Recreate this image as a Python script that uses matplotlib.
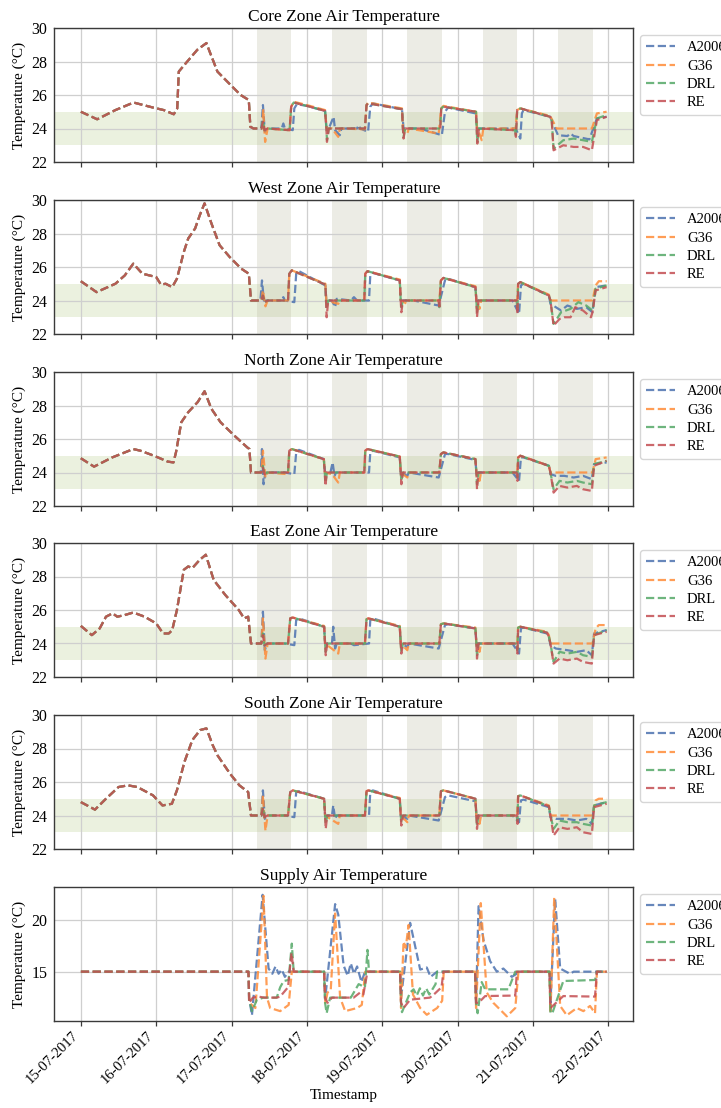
import pandas as pd
import matplotlib.pyplot as plt
import matplotlib.dates as mdates

plt.rcParams.update({
    "font.family": ["Liberation Serif", "DejaVu Serif"],
    "axes.edgecolor": "#3a3a3a",
    "axes.linewidth": 1.0,
    "grid.color": "#cfcfcf",
    "grid.linewidth": 0.9,
})

start = pd.Timestamp("2017-07-15 00:00")
controllers = ["A2006", "G36", "DRL", "RE"]
colors = ["#4C72B0", "#FF8C38", "#55A868", "#C44E52"]
occupied_days = ["2017-07-17", "2017-07-18", "2017-07-19", "2017-07-20", "2017-07-21"]
occupied_hours = (8, 19)
comfort_band = (23, 25)

# (hours since 15-07-2017 00:00, temperature in degC)
# --- Core zone ---
core_pre = [(0, 25.0), (5.2, 24.55), (11, 25.1), (16.8, 25.55), (23, 25.25), (26.4, 25.1), (29.6, 24.85),
            (30.7, 25.2), (31.2, 27.4), (33.9, 28.0), (37.1, 28.7), (40, 29.1), (40.8, 28.7), (43.5, 27.4),
            (47.7, 26.6), (50.9, 26.0), (53.5, 25.7)]
core_a2006 = [(54.0, 24.1), (55, 24.0), (57.5, 24.0), (58.0, 25.4), (58.6, 23.8), (59.5, 24.0), (64, 24.0), (64.5, 24.3),
              (65, 24.0), (67.5, 23.9), (68, 25.2), (68.8, 25.45), (72, 25.35), (77.8, 25.05), (78.2, 24.1), (79, 24.0),
              (80.5, 24.7), (81, 23.9), (82.5, 23.6), (83, 24.0), (88, 24.0), (88.5, 24.2), (89, 24.0), (91.5, 23.8),
              (92.2, 25.3), (93, 25.5), (102.3, 25.15), (102.8, 24.0), (108, 24.0), (115, 23.6), (116, 25.0),
              (117, 25.25), (125.8, 24.9), (126.2, 24.0), (138.5, 24.0), (140, 23.4), (140.5, 24.9), (141, 25.1),
              (149.5, 24.7), (150.2, 24.4), (152, 23.6), (155, 23.55), (156, 23.7), (157, 23.55), (162, 23.35),
              (164.4, 24.6), (167.5, 24.7)]
core_g36 = [(54.0, 24.1), (55, 24.0), (57.8, 24.0), (58.1, 25.1), (58.7, 23.2), (59.5, 24.0), (66.5, 23.9), (67, 25.3),
            (67.8, 25.6), (72, 25.4), (77.8, 25.1), (78.3, 24.0), (80, 24.0), (82, 23.5), (82.5, 24.0), (90.5, 23.95),
            (91.0, 25.4), (91.5, 25.55), (102.3, 25.2), (102.6, 24.0), (104, 23.7), (104.5, 24.0), (114, 23.7),
            (114.8, 25.2), (115.5, 25.35), (125.9, 25.0), (126.2, 24.1), (127.7, 23.3), (128.2, 24.0), (138.5, 24.0),
            (139, 25.1), (140, 25.2), (149.5, 24.75), (150.2, 24.5), (151.6, 24.0), (162.8, 24.0), (164.4, 24.9),
            (167.5, 25.0)]
core_drl = [(54.0, 24.1), (55, 24.0), (57.5, 24.0), (58.0, 24.5), (58.5, 23.9), (59.5, 24.0), (66.5, 23.9), (67, 25.3),
            (67.8, 25.55), (72, 25.35), (77.8, 25.05), (78.2, 24.1), (78.4, 23.3), (79, 24.0), (90.5, 24.0), (91, 25.4),
            (91.5, 25.5), (102.3, 25.15), (102.6, 24.0), (102.8, 23.5), (103.3, 24.0), (114.5, 24.0), (114.8, 25.2),
            (115.5, 25.3), (125.9, 25.0), (126.1, 24.0), (126.3, 23.2), (126.8, 24.0), (138.3, 23.9), (138.6, 23.6),
            (139, 25.1), (140, 25.2), (149.5, 24.7), (150, 24.5), (150.6, 22.8), (153.7, 23.3), (157, 23.4),
            (160, 23.3), (162.8, 23.2), (164.4, 24.6), (167.5, 24.8)]
core_re = [(54.0, 24.1), (55, 24.0), (57.5, 24.0), (58.0, 24.4), (58.5, 23.9), (59.5, 24.0), (66.5, 23.9), (67, 25.3),
           (67.8, 25.55), (72, 25.35), (77.8, 25.05), (78.2, 24.1), (78.4, 23.2), (79, 24.0), (90.5, 24.0), (91, 25.4),
           (91.5, 25.5), (102.3, 25.15), (102.6, 24.0), (102.8, 23.4), (103.3, 24.0), (114.5, 24.0), (114.8, 25.2),
           (115.5, 25.3), (125.9, 25.0), (126.1, 24.0), (126.3, 23.1), (126.8, 24.0), (138.3, 23.9), (138.6, 23.5),
           (139, 25.1), (140, 25.2), (149.5, 24.7), (150, 24.5), (150.6, 22.7), (153.7, 23.0), (157, 22.9),
           (160, 22.9), (162.8, 22.7), (164.4, 24.5), (167.5, 24.7)]

# --- West zone ---
west_pre = [(0, 25.15), (5, 24.5), (11, 25.0), (14, 25.5), (16.7, 26.2), (19.6, 25.6), (24, 25.4), (25.5, 24.95),
            (27, 25.0), (29.1, 24.8), (30.6, 25.3), (32.8, 26.9), (34.2, 27.7), (36.4, 28.3), (37.9, 29.1),
            (39.4, 29.8), (41.6, 28.6), (44.2, 27.3), (47.4, 26.6), (51.1, 25.9), (53.5, 25.6)]
west_a2006 = [(54.2, 24.0), (57.2, 24.0), (57.7, 25.2), (58.3, 24.0), (64, 24.0), (64.5, 24.2), (65, 24.0), (68, 23.9),
              (68.6, 25.6), (69.5, 25.75), (77.9, 24.9), (78.2, 24.0), (80, 24.0), (81, 23.6), (81.5, 24.1), (86, 24.0),
              (87, 24.2), (88, 24.0), (91.8, 24.0), (92.2, 25.5), (93, 25.65), (101.6, 25.2), (101.9, 24.0),
              (106, 24.0), (114, 23.7), (116, 25.2), (117, 25.3), (125.7, 24.8), (126, 24.0), (137.5, 24.0),
              (139.6, 23.2), (140.2, 24.9), (141, 25.0), (149.1, 24.3), (149.6, 23.8), (151.3, 23.6), (153, 23.4),
              (155, 23.7), (158, 23.5), (161, 23.6), (163, 23.3), (164, 24.8), (167.5, 24.9)]
west_g36 = [(54.2, 24.0), (57.5, 24.0), (58.0, 24.6), (58.8, 23.65), (59.5, 24.0), (66, 24.0), (66.4, 25.6),
            (67.2, 25.8), (77.9, 25.0), (78.2, 24.0), (82, 23.8), (82.5, 24.0), (90.3, 24.0), (90.6, 25.6),
            (91.3, 25.75), (101.6, 25.25), (101.9, 24.0), (104, 23.8), (104.5, 24.0), (114.2, 24.0), (114.7, 25.2),
            (115.5, 25.35), (125.7, 24.85), (126, 24.0), (127, 23.5), (127.5, 24.0), (139, 24.0), (139.3, 25.0),
            (140, 25.1), (149.1, 24.35), (149.6, 24.0), (163, 24.0), (164, 24.9), (165, 25.15), (167.5, 25.15)]
west_drl = [(54.2, 24.0), (57.5, 24.0), (58, 24.3), (58.5, 23.9), (59.5, 24.0), (66, 24.0), (66.4, 25.6), (67.2, 25.8),
            (77.9, 24.95), (78.1, 24.0), (78.3, 23.5), (78.8, 24.0), (90.3, 24.0), (90.6, 25.6), (91.3, 25.75),
            (101.6, 25.2), (101.9, 24.0), (102.1, 23.6), (102.6, 24.0), (114, 24.0), (114.2, 23.6), (114.7, 25.2),
            (115.5, 25.35), (125.7, 24.8), (126, 24.0), (126.2, 23.3), (126.7, 24.0), (138.8, 24.0), (139.1, 23.5),
            (139.3, 25.0), (140, 25.1), (149.1, 24.3), (149.6, 24.0), (150.6, 22.6), (153, 23.3), (156, 23.5),
            (158.5, 23.9), (161, 23.7), (163, 23.4), (164, 24.7), (167.5, 24.9)]
west_re = [(54.2, 24.0), (57.5, 24.0), (58, 24.3), (58.5, 23.9), (59.5, 24.0), (66, 24.0), (66.4, 25.6), (67.2, 25.8),
           (77.9, 24.95), (78.1, 24.0), (78.3, 23.0), (78.8, 24.0), (90.3, 24.0), (90.6, 25.6), (91.3, 25.75),
           (101.6, 25.2), (101.9, 24.0), (102.1, 23.3), (102.6, 24.0), (114, 24.0), (114.2, 23.5), (114.7, 25.2),
           (115.5, 25.35), (125.7, 24.8), (126, 24.0), (126.2, 23.0), (126.7, 24.0), (138.8, 24.0), (139.1, 23.2),
           (139.3, 25.0), (140, 25.1), (149.1, 24.3), (149.6, 24.0), (150.6, 22.5), (152.5, 22.9), (154, 23.0),
           (156, 23.0), (157.5, 23.6), (160, 23.4), (162.5, 23.0), (163, 23.3), (164, 24.6), (167.5, 24.8)]

# --- North zone ---
north_pre = [(0, 24.85), (4.2, 24.35), (10, 24.9), (16.7, 25.4), (19, 25.3), (23.3, 25.0), (27.7, 24.65),
             (29.5, 24.6), (30.3, 25.2), (32, 27.0), (34.2, 27.6), (37.2, 28.2), (39.4, 28.85), (41.6, 27.8),
             (44.5, 27.0), (48.9, 26.2), (53, 25.5), (53.7, 25.4)]
north_a2006 = [(54.2, 24.0), (57.3, 24.0), (57.7, 25.4), (58.2, 23.3), (58.8, 24.0), (65, 24.0), (68, 23.9),
               (68.6, 25.2), (69.5, 25.35), (77.4, 24.8), (77.8, 24.0), (79.5, 24.0), (80.2, 24.6), (80.8, 23.8),
               (81.3, 24.0), (91.8, 24.0), (92.2, 25.2), (93, 25.3), (101.6, 24.9), (101.9, 24.0), (104, 23.8),
               (104.5, 24.0), (114, 23.7), (116, 25.1), (117, 25.1), (125.7, 24.75), (126, 24.0), (137.5, 24.0),
               (139.6, 23.5), (140.2, 24.9), (141, 24.9), (149.1, 24.4), (149.6, 23.9), (151.3, 23.8), (154, 23.8),
               (157, 23.7), (160, 23.8), (162.8, 23.6), (163.5, 24.5), (167.5, 24.6)]
north_g36 = [(54.2, 24.0), (57.5, 24.0), (58.0, 25.3), (58.8, 23.7), (59.5, 24.0), (66, 23.9), (66.4, 25.3),
             (67.2, 25.4), (77.4, 24.8), (77.7, 24.0), (80, 23.9), (82, 23.4), (82.5, 24.0), (90.3, 24.0),
             (90.6, 25.3), (91.3, 25.4), (101.6, 24.95), (101.9, 24.0), (104, 23.7), (104.5, 24.0), (114.2, 24.0),
             (114.7, 25.1), (115.5, 25.2), (125.7, 24.8), (126, 24.0), (127, 23.5), (127.5, 24.0), (139, 24.0),
             (139.3, 24.9), (140, 25.0), (149.1, 24.4), (149.6, 24.0), (163, 24.0), (164, 24.8), (167.5, 24.9)]
north_drl = [(54.2, 24.0), (57.5, 24.0), (58, 24.4), (58.5, 23.9), (59.5, 24.0), (66, 24.0), (66.4, 25.3), (67.2, 25.4),
             (77.4, 24.8), (77.7, 24.0), (77.9, 23.4), (78.4, 24.0), (90.3, 24.0), (90.6, 25.3), (91.3, 25.4),
             (101.6, 24.95), (101.9, 24.0), (102.1, 23.5), (102.6, 24.0), (114.2, 24.0), (114.7, 25.1),
             (115.5, 25.2), (125.7, 24.8), (126, 24.0), (126.2, 23.3), (126.7, 24.0), (138.8, 24.0), (139.1, 23.7),
             (139.3, 24.9), (140, 25.0), (149.1, 24.4), (149.6, 24.0), (150.6, 23.0), (152.5, 23.5), (155, 23.4),
             (158, 23.5), (160, 23.4), (162.8, 23.3), (163.5, 24.5), (167.5, 24.7)]
north_re = [(54.2, 24.0), (57.5, 24.0), (58, 24.3), (58.5, 23.9), (59.5, 24.0), (66, 24.0), (66.4, 25.3), (67.2, 25.4),
            (77.4, 24.8), (77.7, 24.0), (77.9, 23.2), (78.4, 24.0), (90.3, 24.0), (90.6, 25.3), (91.3, 25.4),
            (101.6, 24.95), (101.9, 24.0), (102.1, 23.3), (102.6, 24.0), (114.2, 24.0), (114.7, 25.1),
            (115.5, 25.2), (125.7, 24.8), (126, 24.0), (126.2, 23.0), (126.7, 24.0), (138.8, 24.0), (139.1, 23.5),
            (139.3, 24.9), (140, 25.0), (149.1, 24.4), (149.6, 24.0), (150.6, 22.8), (152.5, 23.2), (155, 23.1),
            (158, 23.2), (160, 23.0), (162.8, 22.9), (163.5, 24.4), (167.5, 24.7)]

# --- East zone ---
east_pre = [(0, 25.05), (3.5, 24.5), (6, 24.9), (8, 25.6), (10.1, 25.8), (11.6, 25.6), (14, 25.7), (16.7, 25.85),
            (20.3, 25.6), (24, 25.2), (26.2, 24.6), (28, 24.6), (29.1, 24.8), (30.6, 26.0), (32.8, 28.4),
            (34.2, 28.6), (35.5, 28.5), (37.9, 29.0), (39.8, 29.3), (42.3, 27.8), (46, 26.9), (50.3, 26.0),
            (52, 25.5), (53.3, 25.6)]
east_a2006 = [(54.2, 24.0), (57.5, 24.0), (58.0, 25.9), (58.6, 23.6), (59.3, 24.0), (65, 24.0), (68, 23.9),
              (68.6, 25.4), (69.5, 25.5), (77.5, 25.0), (77.8, 24.0), (80, 24.0), (80.4, 25.0), (81, 23.7),
              (81.5, 24.0), (86, 24.0), (87, 23.9), (91.8, 24.0), (92.2, 25.4), (93, 25.5), (101.6, 25.0),
              (101.9, 24.0), (104, 23.8), (104.5, 24.0), (114, 23.7), (116, 25.1), (117, 25.15), (125.7, 24.9),
              (126, 24.0), (137.5, 24.0), (139.6, 23.4), (140.2, 24.9), (141, 24.95), (148.5, 24.6), (149.1, 24.4),
              (149.6, 23.9), (151.3, 23.7), (155, 23.6), (158, 23.5), (161, 23.6), (162.8, 23.3), (163.5, 24.6),
              (167.5, 24.8)]
east_g36 = [(54.2, 24.0), (57.5, 24.0), (58.0, 25.5), (58.8, 23.1), (59.5, 24.0), (66, 24.0), (66.7, 25.5),
            (67.5, 25.55), (77.5, 25.05), (77.8, 24.0), (82, 23.4), (82.5, 24.0), (90.5, 24.0), (91, 25.45),
            (91.6, 25.5), (101.6, 25.05), (101.9, 24.0), (104, 23.6), (104.5, 24.0), (114.2, 24.0), (114.7, 25.15),
            (115.5, 25.2), (125.7, 24.95), (126, 24.0), (127, 23.5), (127.5, 24.0), (139, 24.0), (139.3, 24.95),
            (140, 25.0), (148.5, 24.7), (149.1, 24.5), (149.6, 24.0), (163, 24.0), (164, 24.9), (165, 25.1),
            (167.5, 25.1)]
east_drl = [(54.2, 24.0), (57.5, 24.0), (58, 24.6), (58.5, 23.9), (59.5, 24.0), (66, 24.0), (66.7, 25.5),
            (67.5, 25.55), (77.5, 25.0), (77.8, 24.0), (78, 23.5), (78.5, 24.0), (90.5, 24.0), (91, 25.45),
            (91.6, 25.5), (101.6, 25.0), (101.9, 24.0), (102.1, 23.5), (102.6, 24.0), (114.2, 24.0), (114.7, 25.15),
            (115.5, 25.2), (125.7, 24.9), (126, 24.0), (126.2, 23.3), (126.7, 24.0), (138.8, 24.0), (139.1, 23.6),
            (139.3, 24.95), (140, 25.0), (148.5, 24.65), (149.1, 24.4), (149.6, 24.0), (150.6, 22.9), (152.5, 23.5),
            (155, 23.4), (158, 23.5), (160, 23.3), (162.8, 23.2), (163.5, 24.5), (167.5, 24.8)]
east_re = [(54.2, 24.0), (57.5, 24.0), (58, 24.5), (58.5, 23.9), (59.5, 24.0), (66, 24.0), (66.7, 25.5),
           (67.5, 25.55), (77.5, 25.0), (77.8, 24.0), (78, 23.3), (78.5, 24.0), (90.5, 24.0), (91, 25.45),
           (91.6, 25.5), (101.6, 25.0), (101.9, 24.0), (102.1, 23.4), (102.6, 24.0), (114.2, 24.0), (114.7, 25.15),
           (115.5, 25.2), (125.7, 24.9), (126, 24.0), (126.2, 23.1), (126.7, 24.0), (138.8, 24.0), (139.1, 23.4),
           (139.3, 24.95), (140, 25.0), (148.5, 24.65), (149.1, 24.4), (149.6, 24.0), (150.6, 22.8), (152.5, 23.1),
           (155, 23.0), (158, 23.1), (160, 22.9), (162.8, 22.8), (163.5, 24.5), (167.5, 24.7)]

# --- South zone ---
south_pre = [(0, 24.8), (4.5, 24.35), (8, 25.0), (12, 25.7), (15, 25.8), (18, 25.7), (23, 25.2), (26, 24.6),
             (29, 24.7), (30.6, 25.5), (33, 27.2), (35.5, 28.5), (38, 29.1), (40, 29.2), (42, 28.2), (43.5, 27.6),
             (47.5, 26.5), (50.5, 25.8), (53.3, 25.4)]
south_a2006 = [(54.2, 24.0), (57.5, 24.0), (58.0, 25.5), (58.6, 23.8), (59.3, 24.0), (65, 24.0), (68, 23.9),
               (68.6, 25.4), (69.5, 25.45), (77.5, 25.0), (77.8, 24.0), (80, 24.0), (80.4, 24.6), (81, 23.8),
               (81.5, 24.0), (91.8, 24.0), (92.2, 25.4), (93, 25.5), (101.6, 25.0), (101.9, 24.0), (104, 23.8),
               (104.5, 24.0), (114, 23.7), (116, 25.1), (117, 25.2), (125.7, 24.85), (126, 24.0), (137.5, 24.0),
               (139.6, 23.6), (140.2, 24.9), (141, 24.95), (149.1, 24.5), (149.6, 23.9), (151.3, 23.8), (155, 23.8),
               (158, 23.7), (161, 23.8), (162.8, 23.5), (163.5, 24.6), (167.5, 24.8)]
south_g36 = [(54.2, 24.0), (57.5, 24.0), (58.0, 25.2), (58.8, 23.1), (59.5, 24.0), (66, 24.0), (66.7, 25.4),
             (67.5, 25.5), (77.5, 25.0), (77.8, 24.0), (82, 23.5), (82.5, 24.0), (90.5, 24.0), (91, 25.45),
             (91.6, 25.5), (101.6, 25.05), (101.9, 24.0), (104, 23.6), (104.5, 24.0), (114.2, 24.0), (114.7, 25.45),
             (115.5, 25.5), (125.7, 25.0), (126, 24.0), (127, 23.5), (127.5, 24.0), (139, 24.0), (139.3, 25.15),
             (140, 25.2), (149.1, 24.6), (149.6, 24.0), (163, 24.0), (164, 24.9), (165, 25.0), (167.5, 25.0)]
south_drl = [(54.2, 24.0), (57.5, 24.0), (58, 24.5), (58.5, 23.9), (59.5, 24.0), (66, 24.0), (66.7, 25.4),
             (67.5, 25.5), (77.5, 25.0), (77.8, 24.0), (78, 23.5), (78.5, 24.0), (90.5, 24.0), (91, 25.45),
             (91.6, 25.5), (101.6, 25.0), (101.9, 24.0), (102.1, 23.6), (102.6, 24.0), (114.2, 24.0), (114.7, 25.45),
             (115.5, 25.5), (125.7, 25.0), (126, 24.0), (126.2, 23.4), (126.7, 24.0), (138.8, 24.0), (139.1, 23.7),
             (139.3, 25.15), (140, 25.2), (149.1, 24.55), (149.6, 24.0), (150.6, 23.2), (152.5, 23.7), (155, 23.6),
             (158, 23.6), (160, 23.5), (162.8, 23.4), (163.5, 24.6), (167.5, 24.8)]
south_re = [(54.2, 24.0), (57.5, 24.0), (58, 24.4), (58.5, 23.9), (59.5, 24.0), (66, 24.0), (66.7, 25.4),
            (67.5, 25.5), (77.5, 25.0), (77.8, 24.0), (78, 23.2), (78.5, 24.0), (90.5, 24.0), (91, 25.45),
            (91.6, 25.5), (101.6, 25.0), (101.9, 24.0), (102.1, 23.4), (102.6, 24.0), (114.2, 24.0), (114.7, 25.45),
            (115.5, 25.5), (125.7, 25.0), (126, 24.0), (126.2, 23.2), (126.7, 24.0), (138.8, 24.0), (139.1, 23.5),
            (139.3, 25.15), (140, 25.2), (149.1, 24.55), (149.6, 24.0), (150.6, 22.8), (152.5, 23.3), (155, 23.2),
            (158, 23.3), (160, 23.0), (162.8, 22.9), (163.5, 24.5), (167.5, 24.7)]

# --- Supply air ---
supply_pre = [(0, 15.0), (53.4, 15.0)]
supply_a2006 = [(53.6, 12.5), (54.5, 10.8), (57.9, 22.4), (59.8, 15.3), (61, 14.8), (62, 15.5), (63, 14.8), (64, 15.2),
                (65, 14.5), (66.2, 15.0), (67.8, 15.0), (77.5, 15.0), (77.8, 12.3), (81, 21.5), (82, 20.5), (83.7, 15.6),
                (85, 14.6), (86, 15.8), (87, 14.8), (88, 15.5), (89.4, 14.0), (90.5, 15.0), (101.7, 15.0), (102, 12.5),
                (104.9, 19.7), (108.1, 15.2), (110.2, 15.4), (111.4, 14.5), (113.5, 15.0), (125.6, 15.0),
                (125.9, 12.0), (126.7, 21.3), (128.3, 18.0), (130.4, 16.0), (132.5, 15.0), (134.6, 15.3),
                (137.3, 14.5), (139.9, 15.0), (149.3, 15.0), (149.6, 12.0), (151.1, 22.0), (152.7, 15.3),
                (155.8, 14.8), (157, 15.0), (167.5, 15.0)]
supply_g36 = [(53.7, 12.0), (55.6, 11.5), (58.2, 22.3), (59.3, 12.5), (60.3, 11.5), (63.5, 11.2), (66.2, 11.8),
              (67.2, 15.0), (77.5, 15.0), (77.9, 12.0), (78.6, 13.0), (79.6, 13.2), (81, 20.6), (82.6, 12.5),
              (84.2, 11.2), (88, 11.5), (89.5, 11.8), (90.6, 15.0), (101.7, 15.0), (102, 11.5), (102.8, 17.9),
              (103.5, 17.3), (104.4, 19.5), (105.8, 12.8), (108.1, 11.5), (110.2, 10.85), (113.5, 11.5),
              (115.1, 12.2), (115.6, 15.0), (125.6, 15.0), (125.9, 11.5), (127.4, 21.6), (129.3, 13.0),
              (131.4, 12.0), (135.7, 10.7), (138.4, 11.5), (139.4, 15.0), (149.3, 15.0), (149.6, 11.0),
              (150.8, 22.1), (152.7, 11.7), (154.8, 10.8), (158, 11.5), (160.1, 11.2), (162.2, 11.7),
              (163.8, 11.0), (164.4, 15.0), (167.5, 15.0)]
supply_drl = [(53.6, 12.3), (54.5, 11.2), (56.1, 12.3), (58.2, 12.5), (62.4, 12.5), (63.5, 13.5), (64.6, 14.1),
              (66.2, 14.2), (67.2, 17.7), (67.8, 15.0), (77.5, 15.0), (77.8, 12.0), (78.3, 11.0), (79.4, 12.5),
              (86, 12.5), (88.5, 13.8), (90.5, 13.5), (91.3, 17.1), (91.8, 15.0), (101.7, 15.0), (102.0, 12.0),
              (102.3, 11.1), (104.9, 13.0), (106, 13.3), (107, 12.7), (108, 13.4), (109, 12.7), (110, 13.4),
              (111, 12.8), (113, 13.8), (113.5, 15.0), (125.6, 15.0), (125.9, 12.0), (126.4, 11.0), (127.7, 14.0),
              (128.8, 13.3), (136.2, 13.3), (138.4, 15.0), (149.3, 15.0), (149.6, 11.0), (150.2, 11.0),
              (153.7, 14.1), (163.8, 14.2), (164.4, 15.0), (167.5, 15.0)]
supply_re = [(53.6, 12.0), (54.8, 12.5), (56.5, 12.6), (58.5, 12.5), (62.4, 12.5), (63.5, 12.6), (66, 13.5),
             (67.1, 16.8), (67.8, 15.0), (77.5, 15.0), (77.8, 12.5), (78.6, 12.0), (80, 12.5), (86.9, 12.5),
             (89, 13.0), (90, 12.8), (91.3, 15.0), (101.7, 15.0), (102.0, 12.0), (102.8, 11.5), (104.9, 12.3),
             (111.2, 12.5), (112.8, 12.9), (114.9, 13.5), (115.5, 15.0), (125.6, 15.0), (125.9, 12.0),
             (126.7, 12.0), (128.8, 12.65), (138.4, 12.7), (138.9, 15.0), (149.3, 15.0), (149.6, 11.5),
             (153.7, 12.65), (163.8, 12.6), (164.4, 15.0), (167.5, 15.0)]

panels = [
    ("Core Zone Air Temperature", core_pre, [core_a2006, core_g36, core_drl, core_re]),
    ("West Zone Air Temperature", west_pre, [west_a2006, west_g36, west_drl, west_re]),
    ("North Zone Air Temperature", north_pre, [north_a2006, north_g36, north_drl, north_re]),
    ("East Zone Air Temperature", east_pre, [east_a2006, east_g36, east_drl, east_re]),
    ("South Zone Air Temperature", south_pre, [south_a2006, south_g36, south_drl, south_re]),
    ("Supply Air Temperature", supply_pre, [supply_a2006, supply_g36, supply_drl, supply_re]),
]


def to_time(pairs):
    hours, vals = zip(*pairs)
    return start + pd.to_timedelta(list(hours), unit="h"), list(vals)


W, H = 721, 1108
fig = plt.figure(figsize=(W / 100, H / 100), dpi=100)
ax_left, ax_right, ax_h = 54.5, 633, 134
ax_tops = [28, 200, 372, 543, 715, 887]
x_min = start - pd.Timedelta(hours=8.4)
x_max = start + pd.Timedelta(hours=175.9)

for i, (title, pre, series) in enumerate(panels):
    top = ax_tops[i]
    ax = fig.add_axes([ax_left / W, 1 - (top + ax_h) / H, (ax_right - ax_left) / W, ax_h / H])
    zone = i < 5

    if zone:
        ax.axhspan(*comfort_band, color="#9DBB61", alpha=0.2, lw=0, zorder=0)
        for d in occupied_days:
            day = pd.Timestamp(d)
            ax.axvspan(day + pd.Timedelta(hours=occupied_hours[0]), day + pd.Timedelta(hours=occupied_hours[1]),
                       color="#B5B59A", alpha=0.25, lw=0, zorder=0)

    for name, col, pts in zip(controllers, colors, series):
        t, v = to_time(pre + pts)
        ax.plot(t, v, linestyle="--", lw=1.6, color=col, alpha=0.85, label=name, zorder=2)

    ax.set_title(title, fontsize=12.5, pad=5)
    ax.set_ylabel("Temperature (°C)", fontsize=11)
    ax.grid(True, zorder=1)
    ax.set_axisbelow(True)
    ax.set_xlim(x_min, x_max)
    if zone:
        ax.set_ylim(22, 30)
        ax.set_yticks([22, 24, 26, 28, 30])
    else:
        ax.set_ylim(10.25, 23.15)
        ax.set_yticks([15, 20])

    ax.xaxis.set_major_locator(mdates.DayLocator())
    ax.xaxis.set_major_formatter(mdates.DateFormatter("%d-%m-%Y"))
    ax.tick_params(axis="y", length=0, pad=5, labelsize=11.5)
    ax.tick_params(axis="x", length=3.5, width=0.9, color="#3a3a3a", labelsize=10.5, pad=2.5)
    if i < 5:
        ax.tick_params(axis="x", labelbottom=False)
    else:
        plt.setp(ax.get_xticklabels(), rotation=45, ha="right", rotation_mode="default")
        ax.set_xlabel("Timestamp", fontsize=11, labelpad=2)

    ax.legend(loc="upper left", bbox_to_anchor=(1.0, 1.0), fontsize=10.5, labelspacing=0.35,
              handlelength=2.0, edgecolor="#cccccc")

fig.savefig("out.png", dpi=100)
